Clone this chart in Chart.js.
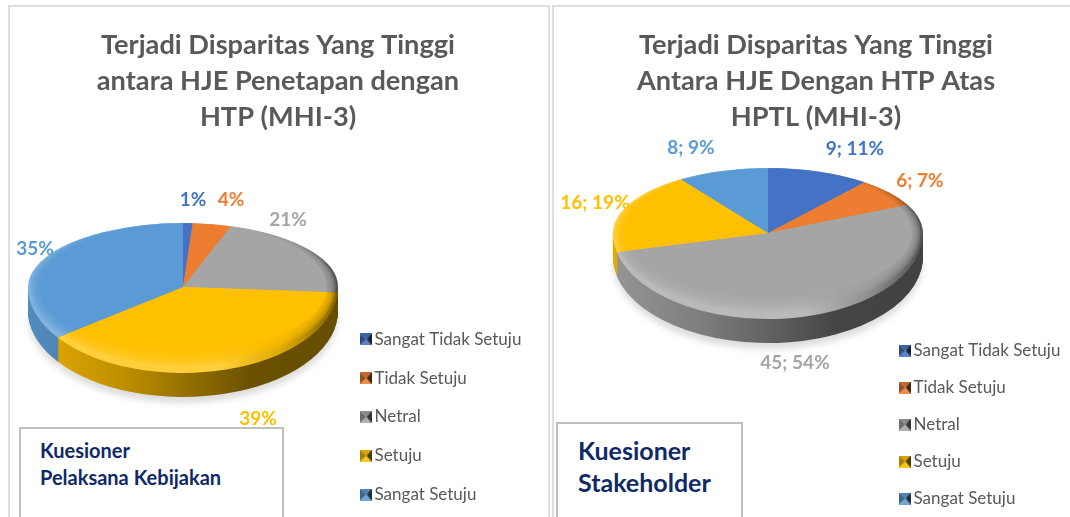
<!DOCTYPE html>
<html><head><meta charset="utf-8">
<script src="https://cdn.jsdelivr.net/npm/chart.js@4/dist/chart.umd.js"></script>
<style>
html,body{margin:0;padding:0;background:#fff;width:1070px;height:517px;overflow:hidden;position:relative}
canvas{position:absolute;top:0}
.panel{position:absolute;border:2px solid #dedede;box-sizing:border-box;background:#fff}
.note{position:absolute;border:2px solid #bfbfbf;box-sizing:border-box;background:#fff;color:#0f2a66;font-family:Lato,sans-serif;font-weight:700;z-index:5}
.note div{position:absolute;white-space:nowrap}
</style></head><body>
<div class="panel" style="left:8px;top:5px;width:542px;height:600px"></div>
<div class="panel" style="left:552px;top:5px;width:600px;height:600px"></div>
<canvas id="c1" width="550" height="517" style="left:0"></canvas>
<canvas id="c2" width="520" height="517" style="left:550px"></canvas>
<div class="note" style="left:19px;top:427px;width:265px;height:95px;font-size:20px;line-height:27px">
  <div style="left:19px;top:8px">Kuesioner</div><div style="left:19px;top:35px">Pelaksana Kebijakan</div></div>
<div class="note" style="left:556px;top:422px;width:187px;height:100px;font-size:25px;line-height:32px">
  <div style="left:20px;top:10px">Kuesioner</div><div style="left:20px;top:42px">Stakeholder</div></div>
<script>
const categories = ['Sangat Tidak Setuju','Tidak Setuju','Netral','Setuju','Sangat Setuju'];
const leftValues = [1,4,21,39,35];
const rightValues = [9,6,45,16,8];
const rightPercents = [11,7,54,19,9];
const leftTitle = ['Terjadi Disparitas Yang Tinggi','antara HJE Penetapan dengan','HTP (MHI-3)'];
const rightTitle = ['Terjadi Disparitas Yang Tinggi','Antara HJE Dengan HTP Atas','HPTL (MHI-3)'];
const sliceColors = ['#4472C4','#ED7D31','#A5A5A5','#FFC000','#5B9BD5'];

function rgb(h){return [1,3,5].map(i=>parseInt(h.substr(i,2),16));}
function mix(h,t,a){const c=rgb(h);return 'rgb('+c.map(v=>Math.round(v+(t-v)*a)).join(',')+')';}
function alpha(h,a){return 'rgba('+rgb(h).join(',')+','+a+')';}

function legendIcon(col){
  const s=12,c=document.createElement('canvas');c.width=s;c.height=s;
  const x=c.getContext('2d');
  const tri=(pts,f)=>{x.fillStyle=f;x.beginPath();pts.forEach((p,i)=>i?x.lineTo(p[0],p[1]):x.moveTo(p[0],p[1]));x.closePath();x.fill();};
  const m=[s/2+1,s/2];
  tri([[0,0],[s,0],m],mix(col,0,.15));
  tri([[0,s],[s,s],m],mix(col,255,.12));
  tri([[0,0],[0,s],m],mix(col,0,.35));
  tri([[s,0],[s,s],m],mix(col,0,.7));
  return c;
}

function withElementFill(el,ctx,fill){
  const saved=el.options,o=Object.create(saved);
  o.backgroundColor=fill;o.borderWidth=0;
  el.options=o;el.draw(ctx);el.options=saved;
}

function makeConfig(values,title,labelTexts,cfg){
  const pie3d={
    id:'pie3d',
    afterLayout(chart){
      const a=cfg.area;
      chart.chartArea={left:a.cx-a.r,right:a.cx+a.r,top:a.cy-a.r,bottom:a.cy+a.r,width:2*a.r,height:2*a.r};
      const t=chart.titleBlock;
      t.left=cfg.titleX-260;t.right=cfg.titleX+260;t.top=cfg.titleTop;t.bottom=cfg.titleTop+t.height;
      const l=chart.legend;
      const w=l.right-l.left;
      l.left=cfg.legendX;l.right=cfg.legendX+w+40;l.top=cfg.legendTop;l.bottom=1500;
    },
    beforeDatasetDraw(chart){
      const ctx=chart.ctx,arcs=chart.getDatasetMeta(0).data;
      const cx=arcs[0].x,cy=arcs[0].y,R=arcs[0].outerRadius;
      const sUp=cfg.ryUp/R,sDown=cfg.ryDown/R,depth=cfg.depth;
      const half=(upper,sy,dy,fn)=>{
        ctx.save();ctx.beginPath();
        if(upper)ctx.rect(0,0,chart.width,cy+dy);else ctx.rect(0,cy+dy,chart.width,chart.height);
        ctx.clip();
        ctx.translate(cx,cy+dy);ctx.scale(1,sy);ctx.translate(-cx,-cy);
        fn();ctx.restore();
      };
      // ground shadow
      ctx.save();ctx.filter='blur(3px)';
      half(false,sDown,depth+6,()=>{arcs.forEach(el=>withElementFill(el,ctx,'#dddddd'));});
      ctx.restore();
      // side wall
      for(let d=depth;d>=0;d--){
        half(false,sDown,d,()=>{
          arcs.forEach((el,i)=>{
            const col=sliceColors[i];
            const g=ctx.createLinearGradient(cx-R,0,cx+R,0);
            g.addColorStop(0,mix(col,0,.1));
            g.addColorStop(.3,mix(col,0,.25));
            g.addColorStop(.72,mix(col,0,.58));
            g.addColorStop(1,mix(col,0,.6));
            withElementFill(el,ctx,g);
          });
        });
      }
      // top face: bevelled rim, then flat face inside nested soft-edged ellipses
      const face=(upper)=>{
        half(upper,upper?sUp:sDown,0,()=>{
          arcs.forEach((el,i)=>{
            const col=sliceColors[i];
            const g=ctx.createLinearGradient(cx-R,0,cx+R,0);
            g.addColorStop(0,mix(col,255,.24));
            g.addColorStop(.62,mix(col,255,.22));
            g.addColorStop(.82,mix(col,0,.12));
            g.addColorStop(1,mix(col,0,.5));
            withElementFill(el,ctx,g);
          });
          const steps=6;
          for(let k=0;k<steps;k++){
            const rx=R*(.985-k*.011);
            const ry=upper?R*(1.02-k*.006):R*(.91-k*.032);
            ctx.save();ctx.beginPath();ctx.ellipse(cx,cy,rx,ry,0,0,Math.PI*2);ctx.clip();
            arcs.forEach((el,i)=>withElementFill(el,ctx,alpha(sliceColors[i],k===steps-1?1:.3)));
            ctx.restore();
          }
        });
      };
      face(true);face(false);
      return false;
    },
    afterDraw(chart){
      const ctx=chart.ctx;ctx.save();
      ctx.font='700 '+cfg.labelSize+'px Lato, sans-serif';ctx.textAlign='center';ctx.textBaseline='middle';
      labelTexts.forEach((t,i)=>{ctx.fillStyle=sliceColors[i];ctx.fillText(t,cfg.labelPos[i][0],cfg.labelPos[i][1]);});
      ctx.restore();
    }
  };
  return {
    type:'pie',
    data:{labels:categories,datasets:[{data:values,backgroundColor:sliceColors,borderWidth:0,hoverOffset:0}]},
    options:{
      responsive:false,animation:false,events:[],
      layout:{autoPadding:false},
      plugins:{
        tooltip:{enabled:false},
        title:{display:true,text:title,color:'#595959',align:'center',padding:0,
          font:{family:'Lato, sans-serif',size:cfg.titleSize,weight:'700',lineHeight:cfg.titleLine/cfg.titleSize}},
        legend:{display:true,position:'right',align:'start',
          labels:{usePointStyle:true,pointStyleWidth:1,boxHeight:12,color:'#595959',padding:cfg.legendPad,
            font:{family:'Lato, sans-serif',size:17},
            generateLabels(){return categories.map((c,i)=>({text:c,pointStyle:legendIcon(sliceColors[i]),fontColor:'#595959',hidden:false,index:i,lineWidth:0,strokeStyle:'transparent',fillStyle:sliceColors[i]}));}
          }}
      }
    },
    plugins:[pie3d]
  };
}

new Chart(document.getElementById('c1'),makeConfig(leftValues,leftTitle,leftValues.map(v=>v+'%'),{
  area:{cx:183,cy:287,r:155},ryUp:64,ryDown:86,depth:24,
  titleX:278,titleTop:27,titleSize:27.2,titleLine:36,
  legendX:343.2,legendTop:309,legendPad:21.8,labelSize:19,
  labelPos:[[193,200],[231,200],[288,220],[258,419],[35,249]]
}));
new Chart(document.getElementById('c2'),makeConfig(rightValues,rightTitle,rightValues.map((v,i)=>v+'; '+rightPercents[i]+'%'),{
  area:{cx:218,cy:233,r:155},ryUp:65,ryDown:86,depth:24,
  titleX:266,titleTop:27,titleSize:27.2,titleLine:36,
  legendX:334,legendTop:322,legendPad:20,labelSize:19,
  labelPos:[[305,149],[370,181],[245,363],[45,203],[141,148]]
}));
</script>
</body></html>
